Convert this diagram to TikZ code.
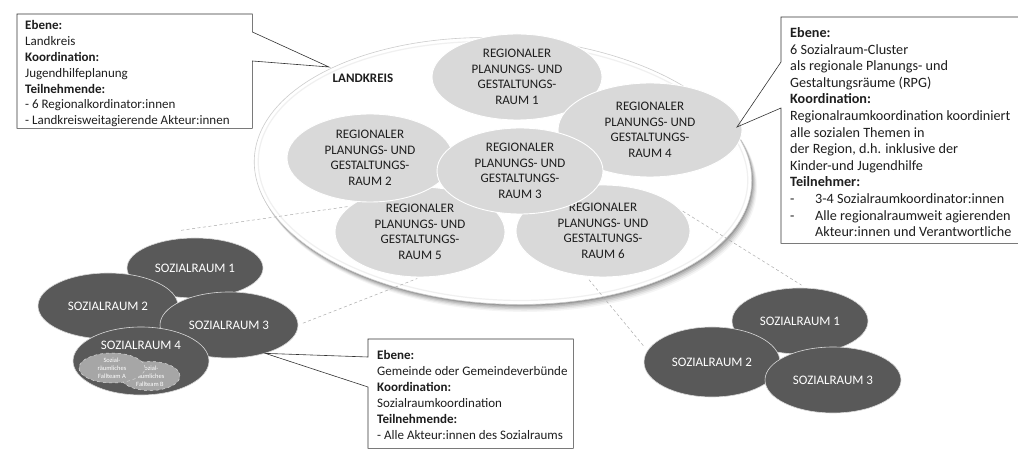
\documentclass[tikz,border=0pt]{standalone}
\usepackage{fontspec}
\setmainfont{Carlito}
\usetikzlibrary{shapes.geometric}
\definecolor{rpgfill}{HTML}{D9D9D9}
\definecolor{srfill}{HTML}{595959}
\definecolor{ftfill}{HTML}{A6A6A6}
\definecolor{txt}{HTML}{1E1E1E}
\begin{document}
\begin{tikzpicture}[x=1pt,y=-1pt,
  rpg/.style={ellipse, fill=rpgfill, draw=white, line width=0.9pt, inner sep=0pt, align=center,
    font=\fontsize{13}{15.5}\selectfont, text=txt},
  sr/.style={ellipse, fill=srfill, draw=white!85!black, line width=0.6pt, inner sep=0pt,
    font=\fontsize{13}{15.5}\selectfont, text=white},
  srlabel/.style={inner sep=0pt, font=\fontsize{13}{15.5}\selectfont, text=white},
  ft/.style={ellipse, fill=ftfill, draw=white!85!black, dashed, line width=0.5pt, inner sep=0pt,
    align=center, font=\fontsize{6.5}{8}\selectfont, text=white},
  boxframe/.style={anchor=north west, inner sep=0pt},
  boxtext/.style={anchor=north west, inner sep=0pt, align=left, text=txt},
  callout/.style={draw=black!80, line width=0.6pt},
  zoomline/.style={draw=gray!65, dash pattern=on 3pt off 2.5pt, line width=0.5pt}]

\useasboundingbox (0,0) rectangle (1018,462);
\clip (0,0) rectangle (1018,462);
\fill[white] (0,0) rectangle (1018,462);

% big ellipse (Landkreis) with soft shadow
\begin{scope}[rotate around={-3:(503,171)}]
  \foreach \i/\o in {8/0.04, 6.5/0.06, 5/0.08, 3.5/0.1, 2/0.12, 1/0.12}
    \fill[black, opacity=\o] (503+\i*0.6,171+\i*0.8) ellipse ({249+\i*0.1} and {133+\i*0.1});
  \draw[fill=white, draw=gray!40, line width=0.6pt] (503,171) ellipse (249 and 133);
  \draw[draw=gray!12, line width=1.2pt] (503,171) ellipse (245 and 129);
\end{scope}

\node[font=\bfseries\fontsize{13}{15}\selectfont, text=txt, inner sep=0pt] (lklabel) at (363,78) {LANDKREIS};

% regional planning spaces
\node[rpg, minimum width=170pt, minimum height=86pt] (r1) at (517,77) {REGIONALER\\PLANUNGS- UND\\GESTALTUNGS-\\RAUM 1};
\node[rpg, minimum width=184pt, minimum height=94pt] (r4) at (650,130) {REGIONALER\\PLANUNGS- UND\\GESTALTUNGS-\\RAUM 4};
\node[rpg, minimum width=170pt, minimum height=90pt] (r5) at (420,232) {REGIONALER\\PLANUNGS- UND\\GESTALTUNGS-\\RAUM 5};
\node[rpg, minimum width=174pt, minimum height=92pt] (r6) at (603,231) {REGIONALER\\PLANUNGS- UND\\GESTALTUNGS-\\RAUM 6};
\node[rpg, minimum width=166pt, minimum height=88pt] (r2) at (370,158) {REGIONALER\\PLANUNGS- UND\\GESTALTUNGS-\\RAUM 2};
\node[rpg, minimum width=166pt, minimum height=86pt] (r3) at (520,171) {REGIONALER\\PLANUNGS- UND\\GESTALTUNGS-\\RAUM 3};

% left cluster
\node[sr, minimum width=136pt, minimum height=60pt] (ls1) at (195,268) {SOZIALRAUM 1};
\node[sr, minimum width=140pt, minimum height=66pt] (ls2) at (108,306) {SOZIALRAUM 2};
\node[sr, minimum width=138pt, minimum height=66pt] (ls3) at (229,325) {SOZIALRAUM 3};
\node[sr, minimum width=136pt, minimum height=68pt] (ls4) at (141,361) {};
\node[srlabel] (ls4label) at (141,345) {SOZIALRAUM 4};
\node[ft, minimum width=60pt, minimum height=28pt] (ftb) at (150,376) {Sozial-\\räumliches\\Fallteam B};
\node[ft, minimum width=66pt, minimum height=30pt] (fta) at (112,368) {Sozial-\\räumliches\\Fallteam A};

% right cluster
\node[sr, minimum width=136pt, minimum height=66pt] (rs1) at (800,321) {SOZIALRAUM 1};
\node[sr, minimum width=136pt, minimum height=70pt] (rs2) at (712,362) {SOZIALRAUM 2};
\node[sr, minimum width=136pt, minimum height=66pt] (rs3) at (833,380) {SOZIALRAUM 3};

% zoom lines
\draw[zoomline] (ls1.115) ++(0,-8) coordinate (z1) -- (r5.160);
\draw[zoomline, shorten <=5pt, shorten >=3pt] (ls3.east) -- (r5.south);
\draw[zoomline, shorten <=2pt, shorten >=5pt] (r6.15) -- (rs1.80);
\draw[zoomline, shorten <=4pt, shorten >=6pt] (r6.-110) -- (rs2.170);

% text boxes (frames)
\node[boxframe, minimum width=235pt, minimum height=114pt] (b1) at (17,14) {};
\node[boxframe, minimum width=245pt, minimum height=226pt] (b2) at (781,17) {};
\node[boxframe, minimum width=205pt, minimum height=109pt] (b3) at (368,339) {};

% box texts
\node[boxtext, font=\fontsize{13}{15.8}\selectfont] (t1) at ([shift={(8pt,-6.5pt)}]b1.north west)
 {\textbf{Ebene:}\\ Landkreis\\ \textbf{Koordination:}\\ Jugendhilfeplanung\\ \textbf{Teilnehmende:}\\ - 6 Regionalkordinator:innen\\ - Landkreisweitagierende Akteur:innen};
\node[boxtext, font=\fontsize{14.2}{16.6}\selectfont] (t2) at ([shift={(9pt,-10.4pt)}]b2.north west)
 {\textbf{Ebene:}\\ 6 Sozialraum-Cluster\\ als regionale Planungs- und\\ Gestaltungsräume (RPG)\\ \textbf{Koordination:}\\
  Regionalraumkoordination koordiniert\\ alle sozialen Themen in\\ der Region, d.h. inklusive der\\ Kinder-und Jugendhilfe\\
  \textbf{Teilnehmer:}\\ \makebox[25pt][l]{-}3-4 Sozialraumkoordinator:innen\\ \makebox[25pt][l]{-}Alle regionalraumweit agierenden\\
  \hspace*{25pt}Akteur:innen und Verantwortliche};
\node[boxtext, font=\fontsize{13}{16}\selectfont] (t3) at ([shift={(9pt,-10.8pt)}]b3.north west)
 {\textbf{Ebene:}\\ Gemeinde oder Gemeindeverbünde\\ \textbf{Koordination:}\\ Sozialraumkoordination\\ \textbf{Teilnehmende:}\\ - Alle Akteur:innen des Sozialraums};

% callout tips
\coordinate (tip1) at (329,67);
\coordinate (tip2) at (737,127);
\coordinate (tip3) at (ls3.-38);

\draw[callout] (b1.north west) -- (b1.north east) -- ([yshift=-18pt]b1.north east) -- (tip1)
  -- ([yshift=-47pt]b1.north east) -- (b1.south east) -- (b1.south west) -- cycle;
\draw[callout] (b2.north east) -- (b2.north west) -- ([yshift=-45pt]b2.north west) -- (tip2)
  -- ([yshift=-91pt]b2.north west) -- (b2.south west) -- (b2.south east);
\draw[callout] (b3.north west) -- (b3.north east) -- (b3.south east) -- (b3.south west)
  -- ([yshift=-48pt]b3.north west) -- (tip3) -- ([yshift=-18pt]b3.north west) -- cycle;
\end{tikzpicture}
\end{document}
